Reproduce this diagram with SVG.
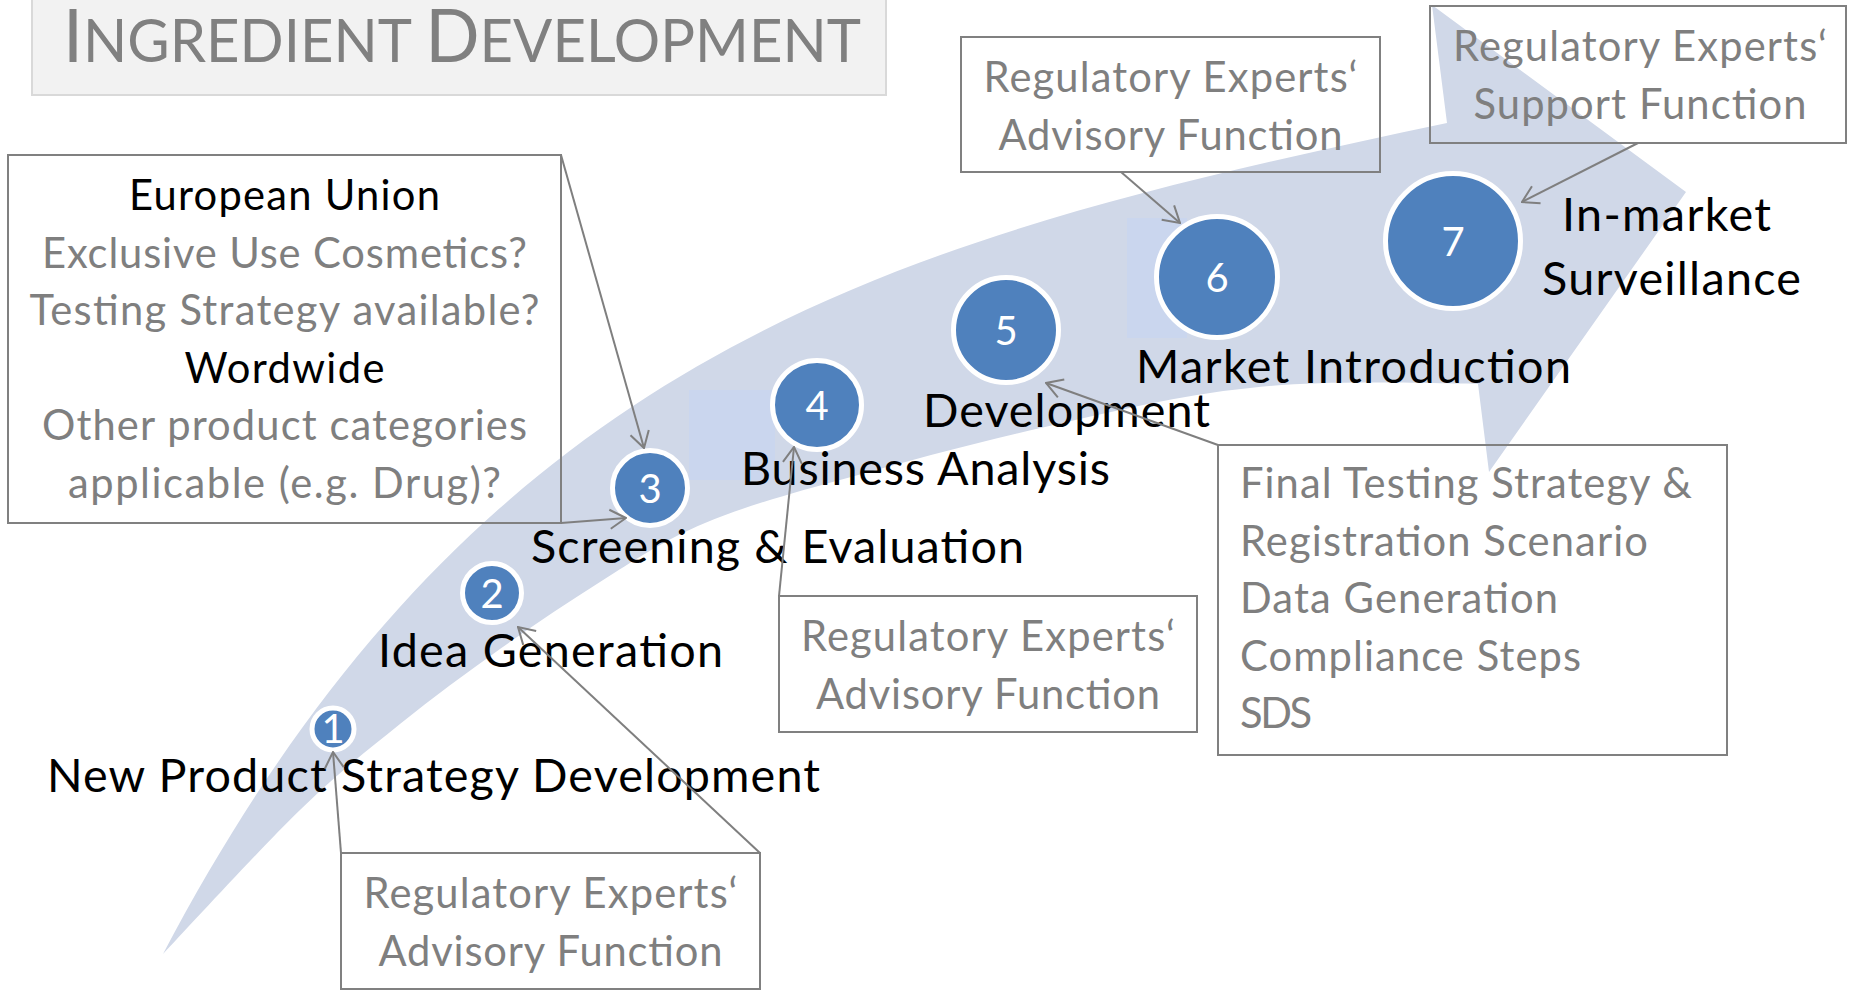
<svg xmlns="http://www.w3.org/2000/svg" width="1849" height="991" viewBox="0 0 1849 991">
<style>
.band{fill:#d0d8e8}
.hl{fill:#cad6ee}
.step{fill:#4f81bd;stroke:#ffffff;stroke-width:5}
.num{font-family:Lato,"Liberation Sans",sans-serif;font-size:40px;fill:#ffffff;text-anchor:middle}
.lbl{font-family:Lato,"Liberation Sans",sans-serif;font-size:46.7px;fill:#000000}
.box{fill:none;stroke:#808080;stroke-width:2}
.bt{font-family:Lato,"Liberation Sans",sans-serif;font-size:41.7px;fill:#7f7f7f}
.blk{fill:#000000}
.conn{fill:none;stroke:#7f7f7f;stroke-width:2;marker-end:url(#arr)}
.title{font-family:Lato,"Liberation Sans",sans-serif;fill:#808080}
</style>
<defs>
<marker id="arr" viewBox="0 0 18 22" refX="17" refY="11" markerWidth="18" markerHeight="22" markerUnits="userSpaceOnUse" orient="auto">
<path d="M1,1.5 L17,11 L1,20.5" fill="none" stroke="#7f7f7f" stroke-width="2"/>
</marker>
</defs>
<rect width="1849" height="991" fill="#ffffff"/>

<g id="title">
<rect x="32" y="-2" width="854" height="97" fill="#f2f2f2" stroke="#d9d9d9" stroke-width="2"/>
<text class="title" x="63" y="62" textLength="798" lengthAdjust="spacingAndGlyphs"><tspan font-size="74">I</tspan><tspan font-size="60">NGREDIENT </tspan><tspan font-size="74">D</tspan><tspan font-size="60">EVELOPMENT</tspan></text>
</g>

<g id="arrow">
<path class="band" d="M163,954 C483,346 897,239 1447,123 L1432,5 L1686,192 L1489,472 L1478,384 C1440,384 1322,379 1250,388 C1178,395 1111.5,412 1045,427 C978.5,442 907.7,461 851,477 C794.3,492.5 746.8,505.5 705,523 C663.2,540.5 634.2,560.5 600,582 C565.8,603.5 533.3,625.3 500,649 C466.7,672.7 433.3,697.2 400,724 C366.7,750.8 339.5,771.7 300,810 C260.5,848.3 185.8,930 163,954 Z"/>
<rect class="hl" x="689" y="390" width="86" height="90"/>
<rect class="hl" x="1127" y="218" width="60" height="120"/>
</g>

<g id="step1"><circle class="step" cx="333" cy="729" r="21" stroke-width="4"/><text class="num" x="333" y="743" font-size="38">1</text><text class="lbl" x="47" y="792" textLength="773" lengthAdjust="spacing">New Product Strategy Development</text></g>
<g id="step2"><circle class="step" cx="492" cy="593" r="29.5"/><text class="num" x="492" y="607.5">2</text><text class="lbl" x="378" y="667" textLength="345" lengthAdjust="spacing">Idea Generation</text></g>
<g id="step3"><circle class="step" cx="650" cy="488" r="37.5"/><text class="num" x="650" y="502.5">3</text><text class="lbl" x="531" y="563" textLength="493" lengthAdjust="spacing">Screening &amp; Evaluation</text></g>
<g id="step4"><circle class="step" cx="817" cy="405" r="44.5"/><text class="num" x="817" y="419.5">4</text><text class="lbl" x="741" y="485" textLength="369" lengthAdjust="spacing">Business Analysis</text></g>
<g id="step5"><circle class="step" cx="1006" cy="330" r="52.5"/><text class="num" x="1006" y="344.5">5</text><text class="lbl" x="923" y="427" textLength="287" lengthAdjust="spacing">Development</text></g>
<g id="step6"><circle class="step" cx="1217" cy="277" r="60.5"/><text class="num" x="1217" y="291.5">6</text><text class="lbl" x="1136" y="383" textLength="435" lengthAdjust="spacing">Market Introduction</text></g>
<g id="step7"><circle class="step" cx="1453" cy="241" r="67.5"/><text class="num" x="1453" y="255.5">7</text><text class="lbl" x="1562" y="231" textLength="209" lengthAdjust="spacing">In-market</text><text class="lbl" x="1542" y="295" textLength="259" lengthAdjust="spacing">Surveillance</text></g>

<g id="boxEU">
<rect class="box" x="8" y="155" width="553" height="368"/>
<text class="bt blk" x="129" y="210" textLength="311" lengthAdjust="spacing">European Union</text>
<text class="bt" x="42" y="267.5" textLength="485" lengthAdjust="spacing">Exclusive Use Cosmetics?</text>
<text class="bt" x="29.5" y="325" textLength="510" lengthAdjust="spacing">Testing Strategy available?</text>
<text class="bt blk" x="184.5" y="382.5" textLength="200" lengthAdjust="spacing">Wordwide</text>
<text class="bt" x="42" y="440" textLength="485" lengthAdjust="spacing">Other product categories</text>
<text class="bt" x="68" y="497.5" textLength="433" lengthAdjust="spacing">applicable (e.g. Drug)?</text>
</g>

<g id="boxAdv1">
<rect class="box" x="341" y="853" width="419" height="136"/>
<text class="bt" x="363.5" y="908" textLength="374" lengthAdjust="spacing">Regulatory Experts‘</text>
<text class="bt" x="378.5" y="965.5" textLength="344" lengthAdjust="spacing">Advisory Function</text>
</g>

<g id="boxAdv2">
<rect class="box" x="779" y="596" width="418" height="136"/>
<text class="bt" x="801" y="651" textLength="374" lengthAdjust="spacing">Regulatory Experts‘</text>
<text class="bt" x="816" y="708.5" textLength="344" lengthAdjust="spacing">Advisory Function</text>
</g>

<g id="boxFinal">
<rect class="box" x="1218" y="445" width="509" height="310"/>
<text class="bt" x="1240" y="498" textLength="452" lengthAdjust="spacing">Final Testing Strategy &amp;</text>
<text class="bt" x="1240" y="555.5" textLength="408" lengthAdjust="spacing">Registration Scenario</text>
<text class="bt" x="1240" y="613" textLength="318" lengthAdjust="spacing">Data Generation</text>
<text class="bt" x="1240" y="670.5" textLength="341" lengthAdjust="spacing">Compliance Steps</text>
<text class="bt" x="1240" y="728" textLength="72" lengthAdjust="spacing">SDS</text>
</g>

<g id="boxAdv3">
<rect class="box" x="961" y="37" width="419" height="135"/>
<text class="bt" x="983.5" y="92" textLength="374" lengthAdjust="spacing">Regulatory Experts‘</text>
<text class="bt" x="998.5" y="149.5" textLength="344" lengthAdjust="spacing">Advisory Function</text>
</g>

<g id="boxSupport">
<rect class="box" x="1430" y="6" width="416" height="137"/>
<text class="bt" x="1453" y="61" textLength="374" lengthAdjust="spacing">Regulatory Experts‘</text>
<text class="bt" x="1473.5" y="118.5" textLength="333" lengthAdjust="spacing">Support Function</text>
</g>

<g id="connectors">
<line class="conn" x1="341" y1="853" x2="333" y2="752"/>
<line class="conn" x1="760" y1="853" x2="518" y2="627"/>
<line class="conn" x1="561" y1="155" x2="644" y2="448"/>
<line class="conn" x1="561" y1="523" x2="626" y2="518"/>
<line class="conn" x1="779" y1="596" x2="794" y2="447"/>
<line class="conn" x1="1218" y1="445" x2="1046" y2="383"/>
<line class="conn" x1="1121" y1="172" x2="1180" y2="223"/>
<line class="conn" x1="1638" y1="143" x2="1522" y2="202"/>
</g>
</svg>
